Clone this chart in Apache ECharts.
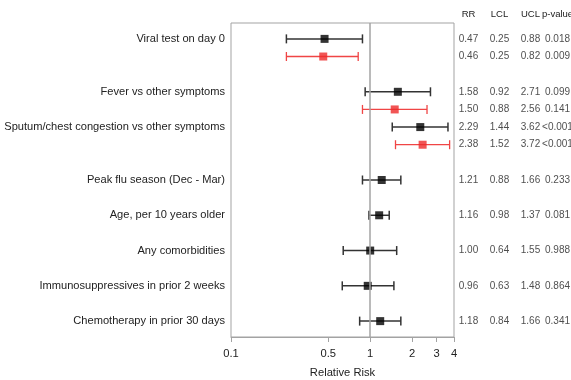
<!DOCTYPE html>
<html>
<head>
<meta charset="utf-8">
<script src="https://cdn.jsdelivr.net/npm/echarts@6/dist/echarts.min.js"></script>
<style>html,body{margin:0;padding:0;background:#fff}#c{width:571px;height:380px}</style>
</head>
<body>
<div id="c"></div>
<script>
const rowLabels = ['Viral test on day 0','Fever vs other symptoms','Sputum/chest congestion vs other symptoms','Peak flu season (Dec - Mar)','Age, per 10 years older','Any comorbidities','Immunosuppressives in prior 2 weeks','Chemotherapy in prior 30 days'];
const labelRows = [0,3,5,8,10,12,14,16];
const rowPos = [0,1,3,4,5,6,8,10,12,14,16];
const isRed = [false,true,false,true,false,true,false,false,false,false,false];
const rr  = [0.47,0.46,1.58,1.50,2.29,2.38,1.21,1.16,1.00,0.96,1.18];
const lcl = [0.25,0.25,0.92,0.88,1.44,1.52,0.88,0.98,0.64,0.63,0.84];
const ucl = [0.88,0.82,2.71,2.56,3.62,3.72,1.66,1.37,1.55,1.48,1.66];
const pval = ['0.018','0.009','0.099','0.141','<0.001','<0.001','0.233','0.081','0.988','0.864','0.341'];
const tableCols = ['RR','LCL','UCL','p-value'];
const xTicks = [0.1,0.5,1,2,3,4];

const BLACK = '#000000', BLACK_LINE = '#333333', RED = '#ee2a2a', RED_LINE = '#f04545';
const GRAY = '#a3a3a3', TXT = '#222222', FONT = 'Liberation Sans';

const barData = rowPos.map((r,i)=>[lcl[i], ucl[i], r, isRed[i]?1:0]);
const blackPts = [], redPts = [];
rowPos.forEach((r,i)=>{ (isRed[i]?redPts:blackPts).push([rr[i], r]); });
const tableData = [];
rowPos.forEach((r,i)=>{
  tableData.push([0, r, rr[i].toFixed(2)]);
  tableData.push([1, r, lcl[i].toFixed(2)]);
  tableData.push([2, r, ucl[i].toFixed(2)]);
  tableData.push({value:[3, r, pval[i]], label:{offset:[-4,0]}});
});

const chart = echarts.init(document.getElementById('c'), null, {renderer:'canvas'});
chart.setOption({
  animation:false,
  textStyle:{fontFamily:FONT},
  grid:[
    {left:231, top:23, width:223, height:314, show:true, borderColor:GRAY, borderWidth:1, containLabel:false, outerBoundsMode:'none'},
    {left:453, top:23, width:124, height:314, show:false, containLabel:false, outerBoundsMode:'none'}
  ],
  xAxis:[
    {gridIndex:0, type:'log', logBase:10, min:0.1, max:4,
     axisLine:{show:true, onZero:false, lineStyle:{color:GRAY, width:1}},
     axisTick:{show:true, customValues:xTicks, length:5, lineStyle:{color:GRAY}},
     axisLabel:{customValues:xTicks, color:TXT, fontSize:11.2, margin:11, fontFamily:FONT, formatter:v=>String(v)},
     splitLine:{show:false}, minorTick:{show:false},
     name:'Relative Risk', nameLocation:'middle', nameGap:30,
     nameTextStyle:{color:TXT, fontSize:11.2, fontFamily:FONT}},
    {gridIndex:1, type:'category', data:tableCols, position:'top',
     axisLine:{show:false, onZero:false}, axisTick:{show:false},
     axisLabel:{color:TXT, fontSize:9.5, margin:4, fontFamily:FONT, interval:0,
       formatter:v=> v==='p-value' ? v + '   ' : v}}
  ],
  yAxis:[
    {gridIndex:0, type:'value', min:-0.9, max:16.9, inverse:true,
     axisLine:{show:false, onZero:false}, axisTick:{show:false}, splitLine:{show:false},
     axisLabel:{customValues:labelRows, color:TXT, fontSize:11.1, margin:6, fontFamily:FONT,
       formatter:v=>{const k=labelRows.indexOf(Math.round(v)); return k>=0?rowLabels[k]:'';}}},
    {gridIndex:1, type:'value', min:-0.9, max:16.9, inverse:true, show:false}
  ],
  series:[
    {type:'custom', xAxisIndex:0, yAxisIndex:0, data:barData, clip:false,
     renderItem:(params, api)=>{
       const a = api.coord([api.value(0), api.value(2)]);
       const b = api.coord([api.value(1), api.value(2)]);
       const red = api.value(3)===1;
       const st = {stroke: red?RED_LINE:BLACK_LINE, lineWidth: red?1.3:1.5};
       const h = 4.5;
       return {type:'group', children:[
         {type:'line', shape:{x1:a[0],y1:a[1],x2:b[0],y2:b[1]}, style:st},
         {type:'line', shape:{x1:a[0],y1:a[1]-h,x2:a[0],y2:a[1]+h}, style:st},
         {type:'line', shape:{x1:b[0],y1:b[1]-h,x2:b[0],y2:b[1]+h}, style:st}
       ]};
     },
     markLine:{silent:true, symbol:'none', label:{show:false},
       lineStyle:{color:GRAY, width:1.5, type:'solid'}, data:[{xAxis:1}]},
     z:2},
    {type:'scatter', xAxisIndex:0, yAxisIndex:0, data:blackPts, symbol:'rect', symbolSize:8,
     itemStyle:{color:BLACK}, z:3},
    {type:'scatter', xAxisIndex:0, yAxisIndex:0, data:redPts, symbol:'rect', symbolSize:8,
     itemStyle:{color:RED}, z:3},
    {type:'scatter', xAxisIndex:1, yAxisIndex:1, data:tableData, symbolSize:0,
     label:{show:true, position:'inside', color:TXT, fontSize:10, fontFamily:FONT,
       formatter:p=>p.value[2]}, z:3}
  ]
});
</script>
</body>
</html>
